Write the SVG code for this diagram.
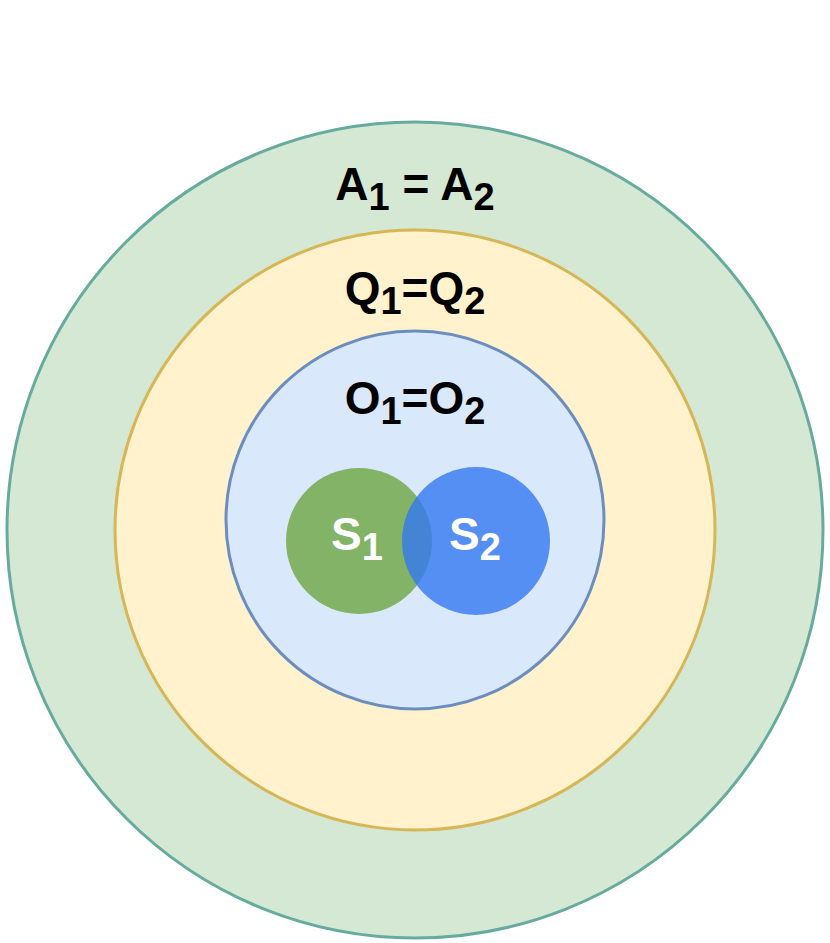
<svg xmlns="http://www.w3.org/2000/svg" width="830" height="943" viewBox="0 0 830 943">
<style>
text{font-family:"Liberation Sans",Arial,sans-serif;font-weight:bold;text-anchor:middle}
.l{font-size:46px;fill:#000}
.s{font-size:46px;fill:#fff}
</style>
<rect width="830" height="943" fill="#fff"/>
<g id="A"><circle cx="415" cy="530" r="408" fill="#d5e8d4" stroke="#67ab9f" stroke-width="3"/>
<text class="l" x="415" y="200">A<tspan dy="10" font-size="38">1</tspan><tspan dy="-10"> = A</tspan><tspan dy="10" font-size="38">2</tspan></text></g>
<g id="Q"><circle cx="415" cy="530" r="300" fill="#fff2cc" stroke="#d6b656" stroke-width="3"/>
<text class="l" x="415" y="304">Q<tspan dy="10" font-size="38">1</tspan><tspan dy="-10">=Q</tspan><tspan dy="10" font-size="38">2</tspan></text></g>
<g id="O"><circle cx="415" cy="520" r="189" fill="#dae8fc" stroke="#6c8ebf" stroke-width="3"/>
<text class="l" x="415" y="414">O<tspan dy="10" font-size="38">1</tspan><tspan dy="-10">=O</tspan><tspan dy="10" font-size="38">2</tspan></text></g>
<g id="S1"><circle cx="359" cy="541" r="73" fill="#82b366"/></g>
<g id="S2"><circle cx="476" cy="541" r="74" fill="#3478f0" fill-opacity="0.8"/></g>
<text class="s" x="357" y="550">S<tspan dy="10" font-size="38">1</tspan></text>
<text class="s" x="475" y="550">S<tspan dy="10" font-size="38">2</tspan></text>
<g id="connectors"/>
</svg>
